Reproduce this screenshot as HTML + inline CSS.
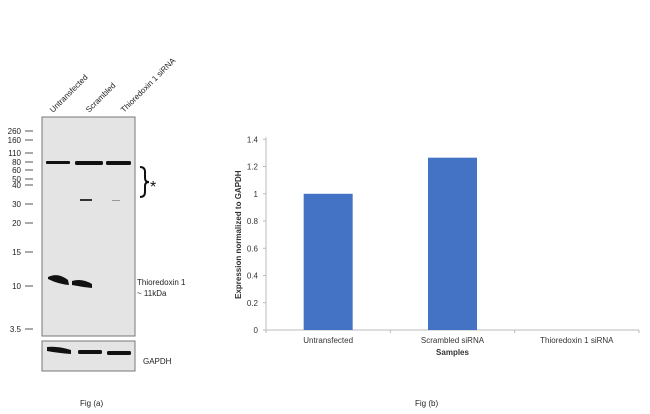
<!DOCTYPE html>
<html><head><meta charset="utf-8"><style>
body{margin:0;background:#fff;font-family:"Liberation Sans",Arial,sans-serif}
svg{display:block}
</style></head><body>
<svg width="650" height="414" xmlns="http://www.w3.org/2000/svg" font-family="Liberation Sans, Arial, sans-serif">
<g>
  <rect x="42" y="117" width="93" height="219" fill="#e4e4e4" stroke="#777" stroke-width="1"/>
  <rect x="42" y="341" width="93" height="30" fill="#e4e4e4" stroke="#777" stroke-width="1"/>
  <g font-size="8" fill="#222" text-anchor="end">
    <text x="21" y="134">260</text><line x1="25" y1="131" x2="33" y2="131" stroke="#555"/>
    <text x="21" y="143">160</text><line x1="25" y1="140" x2="33" y2="140" stroke="#555"/>
    <text x="21" y="156">110</text><line x1="25" y1="153" x2="33" y2="153" stroke="#555"/>
    <text x="21" y="165">80</text><line x1="25" y1="162" x2="33" y2="162" stroke="#555"/>
    <text x="21" y="173">60</text><line x1="25" y1="170" x2="33" y2="170" stroke="#555"/>
    <text x="21" y="182">50</text><line x1="25" y1="179" x2="33" y2="179" stroke="#555"/>
    <text x="21" y="188">40</text><line x1="25" y1="185" x2="33" y2="185" stroke="#555"/>
    <text x="21" y="207">30</text><line x1="25" y1="204" x2="33" y2="204" stroke="#555"/>
    <text x="21" y="226">20</text><line x1="25" y1="223" x2="33" y2="223" stroke="#555"/>
    <text x="21" y="255">15</text><line x1="25" y1="252" x2="33" y2="252" stroke="#555"/>
    <text x="21" y="289">10</text><line x1="25" y1="286" x2="33" y2="286" stroke="#555"/>
    <text x="21" y="332">3.5</text><line x1="25" y1="329" x2="33" y2="329" stroke="#555"/>
  </g>
  <g fill="#111">
    <rect x="46" y="161" width="24" height="3" rx="1"/>
    <rect x="75" y="161" width="28" height="4" rx="1.5"/>
    <rect x="106" y="161" width="25" height="4" rx="1.5"/>
    <rect x="80" y="199" width="12" height="2" fill="#333"/>
    <rect x="112" y="200" width="8" height="1" fill="#999"/>
    <path d="M48 277 Q58 272 68 280 L69 285 Q58 284 48 279 Z"/>
    <path d="M72 281 Q82 278 92 284 L92 288 Q82 287 72 285 Z"/>
    <path d="M47 347 Q58 346 71 350 L71 354 Q58 353 47 351 Z"/>
    <rect x="78" y="350" width="24" height="4" rx="1.5"/>
    <rect x="107" y="351" width="24" height="4" rx="1.5"/>
  </g>
  <g font-size="8" fill="#222">
    <text transform="translate(53,113) rotate(-45)">Untransfected</text>
    <text transform="translate(89,113) rotate(-45)">Scrambled</text>
    <text transform="translate(124,113) rotate(-45)">Thioredoxin 1 siRNA</text>
  </g>
  <path d="M140 167 Q145 167 145 172 L145 178 Q145 182 149 182 Q145 182 145 186 L145 192 Q145 197 140 197" fill="none" stroke="#111" stroke-width="2"/>
  <text x="150" y="192" font-size="16" fill="#111">*</text>
  <text x="137" y="285" font-size="8" fill="#222">Thioredoxin 1</text>
  <text x="137" y="296" font-size="8" fill="#222">~ 11kDa</text>
  <text x="143" y="364" font-size="8" fill="#222">GAPDH</text>
  <text x="80" y="406" font-size="8" fill="#222">Fig (a)</text>
</g>
<g id="chart"></g>
<text x="415" y="406" font-size="8" fill="#222">Fig (b)</text>
</svg>
<script>
const categories=["Untransfected","Scrambled siRNA","Thioredoxin 1 siRNA"];
const values=[1.0,1.265,0];
const yTicks=[0,0.2,0.4,0.6,0.8,1,1.2,1.4];
const yTickLabels=["0","0.2","0.4","0.6","0.8","1","1.2","1.4"];
const NS="http://www.w3.org/2000/svg";
const g=document.getElementById("chart");
const x0=266,x1=639,yZero=330,yTop=139.3,yMax=1.4;
const y=v=>yZero-(v/yMax)*(yZero-yTop);
const bw=(x1-x0)/categories.length;
const xc=i=>x0+bw*(i+0.5);
function mk(t,a){const e=document.createElementNS(NS,t);for(const k in a)e.setAttribute(k,a[k]);g.appendChild(e);return e;}
let ax=mk("line",{x1:x0,y1:y(0),x2:x0,y2:y(yMax)-2,stroke:"#bbb"});


yTicks.forEach((v,i)=>{
  const t=mk("text",{x:x0-8,y:y(v)+3,"font-size":"8","text-anchor":"end",fill:"#333"});
  t.textContent=yTickLabels[i];
  
  
  const tk=mk("line",{x1:x0-3,y1:y(v),x2:x0,y2:y(v),stroke:"#bbb"});
  
  
});
let xa=mk("line",{x1:x0,y1:y(0),x2:x1,y2:y(0),stroke:"#bbb"});


for(let i=0;i<=categories.length;i++){
  const tk=mk("line",{x1:x0+bw*i,y1:y(0),x2:x0+bw*i,y2:y(0)+3,stroke:"#bbb"});
  
  
}
categories.forEach((c,i)=>{
  const h=y(0)-y(values[i]);
  const r=mk("rect",{x:xc(i)-24.5,y:y(values[i]),width:49,height:Math.max(h,0),fill:"#4472c4"});
  
  
  const t=mk("text",{x:xc(i),y:y(0)+13,"font-size":"8","text-anchor":"middle",fill:"#333"});
  t.textContent=c;
  
  
});
const xt=mk("text",{x:(x0+x1)/2,y:355,"font-size":"8","font-weight":"bold","text-anchor":"middle",fill:"#333"});
xt.textContent="Samples";


const yt=mk("text",{transform:"translate(241,"+((y(0)+y(yMax))/2)+") rotate(-90)","font-size":"8","font-weight":"bold","text-anchor":"middle",fill:"#333"});
yt.textContent="Expression  normalized to GAPDH";


</script>
</body></html>
